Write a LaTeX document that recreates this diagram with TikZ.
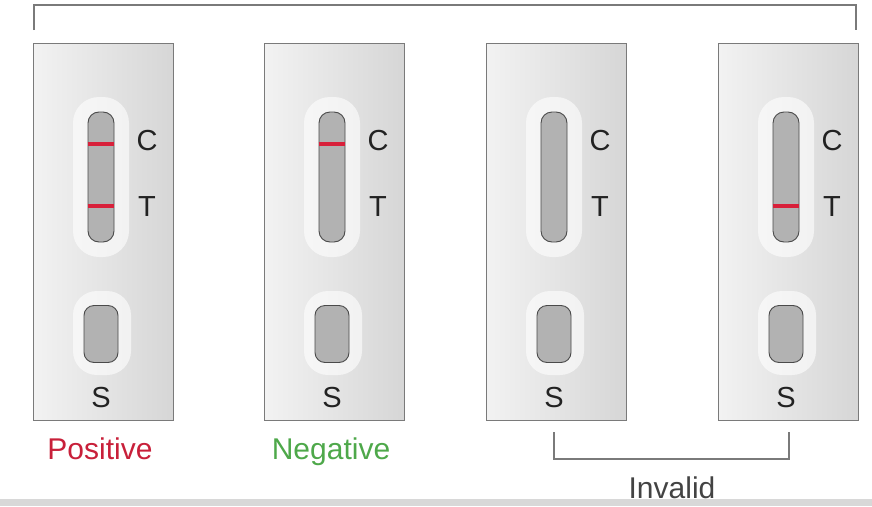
\documentclass[tikz,border=0pt]{standalone}
\usepackage{fontspec}
\setmainfont{Liberation Sans}
\definecolor{frame}{HTML}{7A7A7A}
\definecolor{stripfill}{HTML}{B2B2B2}
\definecolor{stripedge}{HTML}{4A4A4A}
\definecolor{band}{HTML}{D8203A}
\definecolor{poscol}{HTML}{C8203A}
\definecolor{negcol}{HTML}{4EA84A}
\definecolor{inkcol}{HTML}{222222}
\definecolor{footer}{HTML}{D8D8D8}
\tikzset{
  cassette/.style={draw=frame, line width=1pt, left color=white!90!gray, right color=gray!32,
    minimum width=140pt, minimum height=377pt, inner sep=0pt},
  glowbox/.style={fill=white, fill opacity=0.6, draw=none, rounded corners=26pt,
    minimum width=#1, inner sep=0pt},
  stripbox/.style={fill=stripfill, draw=stripedge, line width=0.9pt, rounded corners=11pt,
    minimum width=26pt, minimum height=130pt, inner sep=0pt},
  wellbox/.style={fill=stripfill, draw=stripedge, line width=0.9pt, rounded corners=10pt,
    minimum width=34pt, minimum height=57pt, inner sep=0pt},
  letter/.style={text=inkcol, font=\fontsize{29}{34}\selectfont, inner sep=0pt},
  result/.style={font=\fontsize{30}{36}\selectfont, inner sep=0pt, anchor=base},
  bandline/.style={draw=band, line width=3.2pt},
  bracket/.style={draw=frame, line width=1.2pt},
}

\begin{document}
\begin{tikzpicture}[x=1pt,y=-1pt]
\useasboundingbox (0,0) rectangle (872,506);
\fill[footer] (0,499) rectangle (872,506);

% four test cassettes: centre x of each
\foreach \i/\cx in {1/103, 2/334, 3/556, 4/788} {
  \node[cassette] (cas\i) at (\cx,231.5) {};
  \node[glowbox=56pt, minimum height=160pt] (sglow\i) at (\cx-2,177) {};
  \node[stripbox] (strip\i) at (\cx-2,177) {};
  \node[glowbox=58pt, minimum height=84pt, rounded corners=24pt] (wglow\i) at (\cx-1,333) {};
  \node[wellbox] (well\i) at (\cx-2,334) {};
  \node[letter] (C\i) at (\cx+44,141) {C};
  \node[letter] (T\i) at (\cx+44,207) {T};
  \node[letter] (S\i) at (\cx-2,398) {S};
  % control line sits above the strip centre, test line below it
  \coordinate (cl\i) at ([yshift=33pt]strip\i.center);
  \coordinate (tl\i) at ([yshift=-29pt]strip\i.center);
}

% control and test lines
\draw[bandline] (strip1.west |- cl1) -- (strip1.east |- cl1);
\draw[bandline] (strip1.west |- tl1) -- (strip1.east |- tl1);
\draw[bandline] (strip2.west |- cl2) -- (strip2.east |- cl2);
\draw[bandline] (strip4.west |- tl4) -- (strip4.east |- tl4);

% result captions, set on a common baseline
\node[result, text=poscol] (pos) at (100,459) {Positive};
\node[result, text=negcol] (neg) at (331,459) {Negative};
\node[result, text=inkcol!85!white] (inv) at (672,498) {Invalid};

% brackets
\coordinate (ta) at (34,30);  \coordinate (tb) at (856,30);
\draw[bracket] (ta) -- ++(0,-25) -| (tb);
\coordinate (ba) at (554,432); \coordinate (bb) at (789,432);
\draw[bracket] (ba) -- ++(0,27) -| (bb);
\end{tikzpicture}
\end{document}
